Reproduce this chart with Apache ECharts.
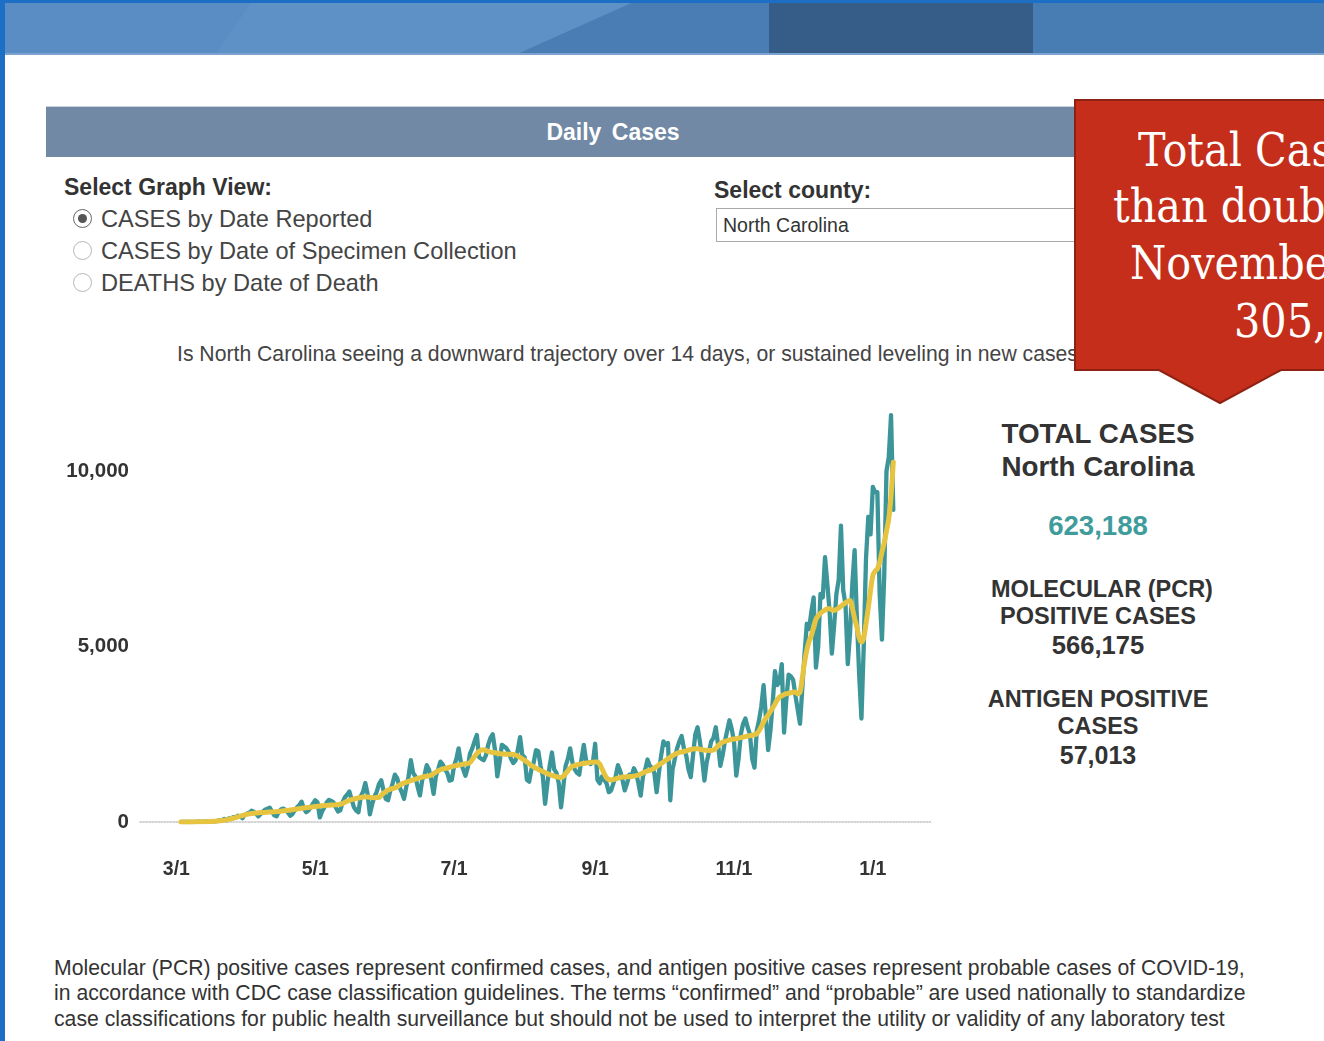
<!DOCTYPE html>
<html>
<head>
<meta charset="utf-8">
<title>Daily Cases</title>
<script src="https://cdn.jsdelivr.net/npm/echarts@6/dist/echarts.min.js"></script>
<style>
  html, body { margin: 0; padding: 0; }
  body { width: 1324px; height: 1041px; overflow: hidden; position: relative; background: #fff;
    font-family: "Liberation Sans", Arial, sans-serif; color: #333; }
  .abs { position: absolute; white-space: nowrap; }
  .radio { position: absolute; width: 19px; height: 19px; border-radius: 50%; box-sizing: border-box;
    border: 1.5px solid #b8b8b8; background: #fff; }
  .radio.on { border-color: #666; }
  .radio.on::after { content: ''; position: absolute; left: 3.5px; top: 3.5px; width: 9px; height: 9px;
    border-radius: 50%; background: #555; }
  .opt { font-size: 23.6px; color: #444; line-height: 30px; }
  .panel { position: absolute; left: 968px; width: 260px; text-align: center; font-weight: bold; color: #333; }
  .call { position: absolute; font-family: "DejaVu Serif", serif; color: #fff; font-size: 46px;
    line-height: 56px; transform: scaleX(0.9); transform-origin: left center; white-space: nowrap; }
  .note { position: absolute; left: 54px; font-size: 21.2px; color: #333; line-height: 26px; white-space: nowrap; }
  #chart { position: absolute; left: 0; top: 382px; width: 960px; height: 520px; }
</style>
</head>
<body>

<!-- top banner -->
<div class="abs" style="left:0;top:0;width:1324px;height:55px;background:#5a8dc3;overflow:hidden">
  <div class="abs" style="left:0;top:0;width:1324px;height:55px;background:#5e91c6;clip-path:polygon(253px 0,640px 0,515px 55px,215px 55px)"></div>
  <div class="abs" style="left:0;top:0;width:1324px;height:55px;background:#4a7db4;clip-path:polygon(638px 0,769px 0,769px 55px,515px 55px)"></div>
  <div class="abs" style="left:769px;top:0;width:264px;height:55px;background:#365d87"></div>
  <div class="abs" style="left:1033px;top:0;width:291px;height:55px;background:#487db4"></div>
  <div class="abs" style="left:0;top:0;width:1324px;height:3px;background:#1c6fc4"></div>
  <div class="abs" style="left:0;top:53px;width:1324px;height:2px;background:#7aa3cf"></div>
</div>
<div class="abs" style="left:0;top:0;width:5px;height:1041px;background:#1c6fc4"></div>

<!-- section header -->
<div class="abs" style="left:46px;top:106px;width:1134px;height:50px;background:#7189a4;border-top:1px solid #c9d3de;
  color:#fff;font-weight:bold;font-size:23px;text-align:center;line-height:50px;word-spacing:4px">Daily Cases</div>

<!-- graph view options -->
<div class="abs" style="left:64px;top:172px;font-size:23px;font-weight:bold;line-height:30px">Select Graph View:</div>
<div class="radio on" style="left:73px;top:209px"></div>
<div class="abs opt" style="left:101px;top:204px">CASES by Date Reported</div>
<div class="radio" style="left:73px;top:241px"></div>
<div class="abs opt" style="left:101px;top:236px">CASES by Date of Specimen Collection</div>
<div class="radio" style="left:73px;top:273px"></div>
<div class="abs opt" style="left:101px;top:268px">DEATHS by Date of Death</div>

<!-- county select -->
<div class="abs" style="left:714px;top:175px;font-size:23px;font-weight:bold;line-height:30px">Select county:</div>
<div class="abs" style="left:716px;top:208px;width:460px;height:34px;box-sizing:border-box;border:1px solid #aaa;
  font-size:19.5px;line-height:32px;padding-left:6px;color:#333">North Carolina</div>

<div class="abs" style="left:177px;top:341px;font-size:21.2px;color:#444;line-height:26px">Is North Carolina seeing a downward trajectory over 14 days, or sustained leveling in new cases?</div>

<div id="chart"></div>

<!-- totals panel -->
<div class="panel" style="top:419px;font-size:27.8px;line-height:30px">TOTAL CASES</div>
<div class="panel" style="top:452px;font-size:27.8px;line-height:30px">North Carolina</div>
<div class="panel" style="top:511px;font-size:27.6px;line-height:30px;color:#3f9c9c">623,188</div>
<div class="panel" style="top:575px;font-size:23.5px;line-height:28px;left:972px">MOLECULAR (PCR)</div>
<div class="panel" style="top:602px;font-size:23.5px;line-height:28px">POSITIVE CASES</div>
<div class="panel" style="top:631px;font-size:25.6px;line-height:28px">566,175</div>
<div class="panel" style="top:685px;font-size:23.5px;line-height:28px">ANTIGEN POSITIVE</div>
<div class="panel" style="top:712px;font-size:23.5px;line-height:28px">CASES</div>
<div class="panel" style="top:741px;font-size:25px;line-height:28px">57,013</div>

<!-- footnote -->
<div class="note" style="top:955px">Molecular (PCR) positive cases represent confirmed cases, and antigen positive cases represent probable cases of COVID-19,</div>
<div class="note" style="top:980px">in accordance with CDC case classification guidelines. The terms “confirmed” and “probable” are used nationally to standardize</div>
<div class="note" style="top:1006px">case classifications for public health surveillance but should not be used to interpret the utility or validity of any laboratory test</div>

<!-- red callout -->
<svg class="abs" style="left:1074px;top:99px" width="260" height="310">
  <path d="M1 1 H259 V271 H207 L146 304 L85 271 H1 Z" fill="#c42e1a" stroke="#8e2212" stroke-width="2"/>
</svg>
<div class="call" style="left:1138px;top:122px">Total Cases</div>
<div class="call" style="left:1113px;top:178px">than doubled</div>
<div class="call" style="left:1130px;top:235px">November</div>
<div class="call" style="left:1234px;top:293px">305,</div>

<script>
// days counted from 3/1/2020; first reported case on 3/3
const startDay = 2
const tickDays = [0, 61, 122, 184, 245, 306]
const tickLabels = ['3/1', '5/1', '7/1', '9/1', '11/1', '1/1']
const yTicks = [0, 5000, 10000]

// new cases by date reported, 3/3/2020 .. 1/10/2021
const dailyCases = [
  1, 0, 1, 0, 2,
  0, 2, 1, 8, 4, 9, 10,
  7, 9, 24, 20, 33, 47, 49,
  90, 48, 100, 105, 140, 130, 180,
  150, 110, 200, 240, 260, 320, 290,
  240, 160, 230, 300, 350, 380, 410,
  300, 190, 160, 300, 360, 380, 340,
  270, 180, 230, 340, 420, 480, 580,
  380, 280, 330, 420, 520, 620, 560,
  130, 300, 420, 550, 630, 600, 560,
  420, 300, 330, 560, 700, 780, 870,
  640, 420, 330, 280, 730, 860, 1110,
  800, 220, 500, 720, 860, 1080, 1190,
  900, 660, 620, 900, 1100, 1350, 1250,
  1000, 850, 660, 1000, 1300, 1760, 1400,
  1300, 1000, 760, 1200, 1330, 1620, 1490,
  1200, 800, 1300, 1500, 1720, 1640, 1500,
  1400, 1180, 1200, 1600, 1800, 2100, 1700,
  1500, 1320, 1550, 1950, 2100, 2300, 2480,
  1850, 1800, 1760, 1900, 2200, 2400, 2500,
  2050, 1300, 1700, 2200, 2150, 2100, 2000,
  1800, 1680, 1750, 2050, 2420, 1900, 1850,
  1200, 1150, 1500, 1700, 2050, 2020, 1600,
  1300, 520, 1100, 1600, 1980, 1500, 1400,
  1100, 420, 1000, 1600, 1800, 2100, 1700,
  1500, 1400, 1350, 1800, 2200, 1750, 1700,
  1650, 1700, 2230, 1200, 1100, 1300, 1200,
  1100, 850, 900, 1100, 1300, 1620, 1450,
  1200, 900, 1100, 1350, 1300, 1530, 1400,
  1100, 750, 1300, 1500, 1780, 1600, 1550,
  1400, 850, 1400, 1900, 2300, 2200, 2250,
  620, 1500, 1800, 2100, 2300, 2450, 2100,
  1900, 1500, 1280, 1900, 2500, 2700, 2300,
  1800, 1180, 1700, 2000, 2300, 2400, 2700,
  2200, 1600, 1900, 2300, 2600, 2900, 2650,
  2300, 1320, 1800, 2500, 2800, 2950, 2700,
  2500, 1800, 1550, 2600, 2900, 3300, 3900,
  3000, 2050, 2600, 3400, 4300, 3900, 4000,
  4500, 2550, 3500, 4200, 4150, 4050, 3600,
  3200, 2800, 3800, 4800, 5650, 5500, 6000,
  6400, 4400, 5000, 6500, 6400, 7550, 6800,
  6000, 4800, 5600, 6500, 6900, 8450, 6600,
  6200, 4500, 5400, 6800, 7750, 5800, 4200,
  2950, 5000, 7500, 8700, 8200, 9550, 9400,
  9400, 6500, 5200, 7000, 10000, 10400, 11600,
  8900
]

// 7-day average, same dates
const avg7 = [
  1, 1, 1, 2, 2, 3, 3, 4,
  5, 6, 8, 10, 12, 15, 18,
  22, 28, 35, 42, 52, 63, 76,
  92, 108, 125, 145, 165, 185, 205,
  220, 232, 242, 250, 256, 262, 268,
  272, 276, 280, 283, 285, 290, 296,
  302, 310, 318, 326, 332, 340, 350,
  360, 370, 380, 390, 400, 408, 416,
  424, 432, 440, 448, 456, 462, 468,
  474, 478, 482, 486, 490, 494, 505,
  530, 560, 590, 620, 640, 655, 670,
  685, 700, 710, 712, 712, 705, 695,
  693, 695, 700, 760, 820, 870, 910,
  935, 955, 975, 1000, 1050, 1080, 1110,
  1135, 1160, 1180, 1200, 1220, 1240, 1260,
  1280, 1295, 1305, 1315, 1340, 1380, 1420,
  1460, 1490, 1510, 1525, 1540, 1560, 1580,
  1600, 1610, 1620, 1635, 1650, 1660, 1665,
  1700, 1780, 1870, 1950, 2010, 2050, 2060,
  2040, 2010, 1990, 1980, 1975, 1960, 1950,
  1940, 1935, 1930, 1930, 1930, 1925, 1910,
  1880, 1840, 1800, 1760, 1710, 1660, 1610,
  1570, 1530, 1500, 1470, 1440, 1410, 1380,
  1350, 1330, 1310, 1290, 1275, 1270, 1300,
  1380, 1460, 1530, 1590, 1610, 1630, 1650,
  1660, 1670, 1680, 1690, 1700, 1705, 1710,
  1710, 1650, 1520, 1380, 1260, 1210, 1200,
  1210, 1230, 1250, 1270, 1282, 1285, 1290,
  1295, 1300, 1305, 1320, 1340, 1370, 1400,
  1430, 1455, 1472, 1500, 1540, 1580, 1630,
  1670, 1710, 1760, 1800, 1850, 1890, 1930,
  1960, 1985, 1995, 2010, 2030, 2050, 2065,
  2080, 2089, 2085, 2075, 2060, 2050, 2045,
  2040, 2041, 2050, 2100, 2170, 2230, 2275,
  2300, 2320, 2340, 2355, 2365, 2374, 2390,
  2405, 2420, 2435, 2450, 2460, 2469, 2490,
  2516, 2600, 2720, 2850, 2960, 3050, 3150,
  3250, 3360, 3480, 3561, 3600, 3630, 3656,
  3670, 3685, 3700, 3705, 3650, 3700, 4100,
  4550, 4900, 5150, 5318, 5550, 5780, 5880,
  5950, 6000, 6040, 6078, 6080, 6050, 6030,
  6060, 6100, 6150, 6200, 6250, 6290, 6316,
  6100, 5800, 5550, 5250, 5130, 5250, 5650,
  6100, 6600, 7027, 7150, 7217, 7400, 7692,
  7950, 8300, 8642, 9300, 10256
]

const font = '"Liberation Sans", Arial, sans-serif'
const withComma = v => String(v).replace(/\B(?=(\d{3})+(?!\d))/g, ',')

const chart = echarts.init(document.getElementById('chart'), null, { renderer: 'canvas' })
chart.setOption({
  animation: false,
  grid: { left: 140, right: 28, top: 19, bottom: 80 },
  xAxis: {
    type: 'value', min: -16, max: 332,
    axisLine: { show: true, lineStyle: { color: '#c4c4c4', type: 'dotted', width: 1.5 } },
    axisTick: { show: false },
    splitLine: { show: false },
    axisLabel: {
      customValues: tickDays,
      formatter: v => tickLabels[tickDays.indexOf(v)],
      margin: 38, color: '#333', fontWeight: 'bold', fontSize: 19.5, fontFamily: font,
    },
  },
  yAxis: {
    type: 'value', min: 0, max: 12000,
    axisLine: { show: false },
    axisTick: { show: false },
    splitLine: { show: false },
    axisLabel: {
      customValues: yTicks,
      formatter: v => withComma(v),
      margin: 11, color: '#333', fontWeight: 'bold', fontSize: 20.5, fontFamily: font,
    },
  },
  series: [
    { name: 'Daily', type: 'line', symbol: 'none', z: 2,
      data: dailyCases.map((v, i) => [startDay + i, v]),
      lineStyle: { color: '#3b9599', width: 4.3, join: 'round', cap: 'round' } },
    { name: '7-day average', type: 'line', symbol: 'none', smooth: 0.3, z: 3,
      data: avg7.map((v, i) => [startDay + i, v]),
      lineStyle: { color: '#e7c43f', width: 5, cap: 'round' } },
  ],
})
</script>
</body>
</html>
